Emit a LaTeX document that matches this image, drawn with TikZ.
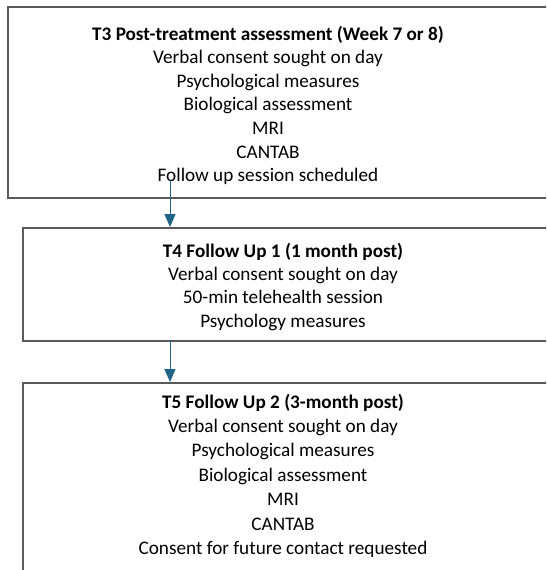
\documentclass[tikz,border=0pt]{standalone}
\usepackage{fontspec}
\setmainfont{Carlito}
\usetikzlibrary{arrows.meta}
\definecolor{arrowblue}{HTML}{1F6388}
\definecolor{boxgray}{HTML}{5A5A5A}
\tikzset{
  box/.style={draw=boxgray, line width=1.5pt, rectangle, inner sep=0pt, anchor=north west},
  boxtext/.style={align=center, inner sep=0pt, anchor=base},
  flow/.style={draw=arrowblue, line width=0.9pt, -{Triangle[length=13pt,width=11pt]}}
}
\begin{document}
\begin{tikzpicture}[x=1pt,y=1pt]
\useasboundingbox (0,0) rectangle (546,-570);
\clip (0,0) rectangle (546,-570);
\node[box, minimum width=560pt, minimum height=191pt] (b1) at (7,-6) {};
\node[box, minimum width=545pt, minimum height=113pt] (b2) at (22,-227) {};
\node[box, minimum width=545pt, minimum height=220pt] (b3) at (22,-382) {};
\node[boxtext, font=\fontsize{19.2}{23.6}\selectfont] (t1) at (268,-181.6)
  {\textbf{T3 Post-treatment assessment (Week 7 or 8)}\\Verbal consent sought on day\\Psychological measures\\Biological assessment\\MRI\\CANTAB\\Follow up session scheduled};
\node[boxtext, font=\fontsize{19.2}{23.4}\selectfont] (t2) at (283,-327.2)
  {\textbf{T4 Follow Up 1 (1 month post)}\\Verbal consent sought on day\\50-min telehealth session\\Psychology measures};
\node[boxtext, font=\fontsize{19.2}{24.4}\selectfont] (t3) at (283,-554.4)
  {\textbf{T5 Follow Up 2 (3-month post)}\\Verbal consent sought on day\\Psychological measures\\Biological assessment\\MRI\\CANTAB\\Consent for future contact requested};
\coordinate (s1) at (170,-180);
\coordinate (s2) at (170,-340);
\draw[flow] (s1) -- (s1 |- b2.north);
\draw[flow] (s2) -- (s2 |- b3.north);
\end{tikzpicture}
\end{document}
